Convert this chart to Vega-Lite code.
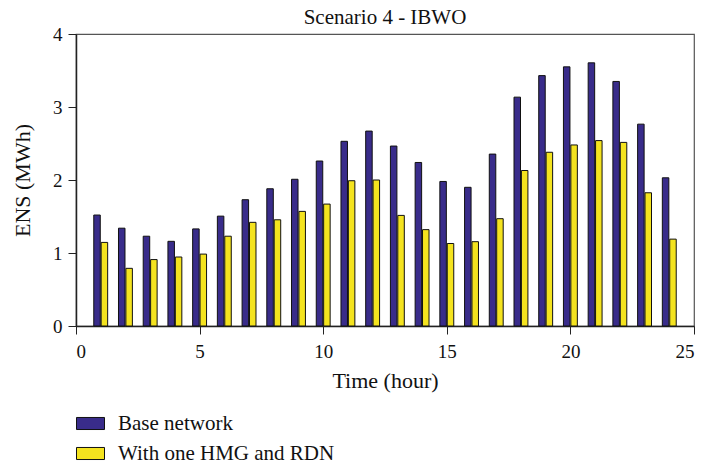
{
  "$schema": "https://vega.github.io/schema/vega-lite/v6.json",
  "width": 618,
  "height": 292,
  "autosize": {"type": "none"},
  "padding": {"left": 76, "top": 34, "right": 13, "bottom": 140},
  "background": "white",
  "title": {"text": "Scenario 4 - IBWO", "font": "Liberation Serif", "fontSize": 21, "fontWeight": "normal", "color": "#111", "offset": 6, "dy": 9, "anchor": "middle"},
  "config": {
    "view": {"stroke": "#555", "strokeWidth": 1.2},
    "axis": {"labelFont": "Liberation Serif", "titleFont": "Liberation Serif", "labelFontSize": 19, "titleFontSize": 22, "titleFontWeight": "normal", "labelColor": "#111", "titleColor": "#111", "domainColor": "#222", "tickColor": "#222", "grid": false}
  },
  "data": {"values": [
    {"hour": 1, "series": "Base network", "ens": 1.52},
    {"hour": 2, "series": "Base network", "ens": 1.34},
    {"hour": 3, "series": "Base network", "ens": 1.23},
    {"hour": 4, "series": "Base network", "ens": 1.16},
    {"hour": 5, "series": "Base network", "ens": 1.33},
    {"hour": 6, "series": "Base network", "ens": 1.505},
    {"hour": 7, "series": "Base network", "ens": 1.73},
    {"hour": 8, "series": "Base network", "ens": 1.88},
    {"hour": 9, "series": "Base network", "ens": 2.01},
    {"hour": 10, "series": "Base network", "ens": 2.26},
    {"hour": 11, "series": "Base network", "ens": 2.53},
    {"hour": 12, "series": "Base network", "ens": 2.67},
    {"hour": 13, "series": "Base network", "ens": 2.465},
    {"hour": 14, "series": "Base network", "ens": 2.24},
    {"hour": 15, "series": "Base network", "ens": 1.98},
    {"hour": 16, "series": "Base network", "ens": 1.9},
    {"hour": 17, "series": "Base network", "ens": 2.355},
    {"hour": 18, "series": "Base network", "ens": 3.135},
    {"hour": 19, "series": "Base network", "ens": 3.43},
    {"hour": 20, "series": "Base network", "ens": 3.55},
    {"hour": 21, "series": "Base network", "ens": 3.605},
    {"hour": 22, "series": "Base network", "ens": 3.35},
    {"hour": 23, "series": "Base network", "ens": 2.765},
    {"hour": 24, "series": "Base network", "ens": 2.03},
    {"hour": 1, "series": "With one HMG and RDN", "ens": 1.145},
    {"hour": 2, "series": "With one HMG and RDN", "ens": 0.79},
    {"hour": 3, "series": "With one HMG and RDN", "ens": 0.91},
    {"hour": 4, "series": "With one HMG and RDN", "ens": 0.945},
    {"hour": 5, "series": "With one HMG and RDN", "ens": 0.985},
    {"hour": 6, "series": "With one HMG and RDN", "ens": 1.23},
    {"hour": 7, "series": "With one HMG and RDN", "ens": 1.42},
    {"hour": 8, "series": "With one HMG and RDN", "ens": 1.455},
    {"hour": 9, "series": "With one HMG and RDN", "ens": 1.57},
    {"hour": 10, "series": "With one HMG and RDN", "ens": 1.67},
    {"hour": 11, "series": "With one HMG and RDN", "ens": 1.99},
    {"hour": 12, "series": "With one HMG and RDN", "ens": 2.0},
    {"hour": 13, "series": "With one HMG and RDN", "ens": 1.515},
    {"hour": 14, "series": "With one HMG and RDN", "ens": 1.32},
    {"hour": 15, "series": "With one HMG and RDN", "ens": 1.13},
    {"hour": 16, "series": "With one HMG and RDN", "ens": 1.155},
    {"hour": 17, "series": "With one HMG and RDN", "ens": 1.47},
    {"hour": 18, "series": "With one HMG and RDN", "ens": 2.13},
    {"hour": 19, "series": "With one HMG and RDN", "ens": 2.38},
    {"hour": 20, "series": "With one HMG and RDN", "ens": 2.48},
    {"hour": 21, "series": "With one HMG and RDN", "ens": 2.54},
    {"hour": 22, "series": "With one HMG and RDN", "ens": 2.515},
    {"hour": 23, "series": "With one HMG and RDN", "ens": 1.825},
    {"hour": 24, "series": "With one HMG and RDN", "ens": 1.19}
  ]},
  "encoding": {
    "x": {"field": "hour", "type": "quantitative", "title": "Time (hour)",
      "scale": {"domain": [0, 25], "nice": false, "padding": 0},
      "axis": {"values": [0, 5, 10, 15, 20, 25], "tickSize": 8, "labelPadding": 8, "titlePadding": 9, "domainWidth": 1.5}},
    "y": {"field": "ens", "type": "quantitative", "title": "ENS (MWh)",
      "scale": {"domain": [0, 4], "nice": false, "padding": 0},
      "axis": {"values": [0, 1, 2, 3, 4], "tickSize": 8, "labelPadding": 6, "titlePadding": 18, "domainWidth": 1.5}},
    "color": {"field": "series", "type": "nominal",
      "scale": {"domain": ["Base network", "With one HMG and RDN"], "range": ["#392c8a", "#f4e31f"]},
      "legend": {"title": null, "orient": "none", "legendX": 0, "legendY": 375, "direction": "vertical", "padding": 0,
        "symbolType": "M-1,-0.43H1V0.43H-1Z", "symbolSize": 784, "symbolStrokeColor": "#111", "symbolStrokeWidth": 1, "symbolOpacity": 1,
        "labelFont": "Liberation Serif", "labelFontSize": 21, "labelColor": "#111", "labelLimit": 500, "rowPadding": 5, "labelOffset": 13}}
  },
  "layer": [
    {"transform": [{"filter": "datum.series === 'Base network'"}],
      "mark": {"type": "bar", "width": 6.5, "xOffset": -3.7, "stroke": "#111", "strokeWidth": 1}},
    {"transform": [{"filter": "datum.series === 'With one HMG and RDN'"}],
      "mark": {"type": "bar", "width": 6.5, "xOffset": 3.7, "stroke": "#111", "strokeWidth": 1}}
  ]
}
